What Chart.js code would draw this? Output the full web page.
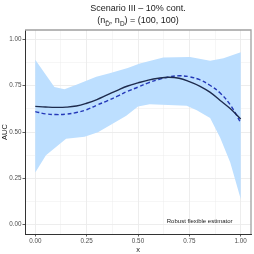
<!DOCTYPE html>
<html>
<head>
<meta charset="utf-8">
<script src="https://cdn.jsdelivr.net/npm/chart.js@4"></script>
<style>
  html, body { margin: 0; padding: 0; background: #fff; }
  #wrap { position: relative; width: 254px; height: 254px; }
  .ttl { position: absolute; left: 25px; right: 3px; text-align: center;
         font-family: "Liberation Sans", Arial, sans-serif; font-size: 9px; color: #1a1a1a; }
  .ttl sub { font-size: 6.5px; }
</style>
</head>
<body>
<div id="wrap">
  <div class="ttl" style="top:3px">Scenario III – 10% cont.</div>
  <div class="ttl" style="top:15px">(n<sub>D̄</sub>, n<sub>D</sub>) = (100, 100)</div>
  <canvas id="c" width="254" height="254"></canvas>
</div>
<script>
/* ===== DATA ===== */
const X_LINE   = [0, 0.05, 0.1, 0.15, 0.2, 0.25, 0.3, 0.35, 0.4, 0.45, 0.5, 0.55, 0.6, 0.65, 0.7, 0.75, 0.8, 0.85, 0.9, 0.95, 1.0];
const TRUE_AUC = [0.638, 0.635, 0.633, 0.634, 0.64, 0.655, 0.675, 0.70, 0.725, 0.748, 0.765, 0.78, 0.79, 0.795, 0.79, 0.772, 0.748, 0.715, 0.67, 0.625, 0.57];
const EST_AUC  = [0.61, 0.598, 0.594, 0.596, 0.605, 0.62, 0.645, 0.668, 0.693, 0.72, 0.742, 0.765, 0.783, 0.797, 0.803, 0.798, 0.782, 0.752, 0.71, 0.645, 0.55];

const X_UPPER  = [0, 0.093, 0.142, 0.2, 0.297, 0.362, 0.45, 0.509, 0.623, 0.753, 0.851, 0.916, 1.0];
const UPPER    = [0.89, 0.742, 0.731, 0.755, 0.798, 0.817, 0.845, 0.870, 0.902, 0.905, 0.884, 0.897, 0.93];
const X_LOWER  = [0, 0.052, 0.15, 0.24, 0.305, 0.37, 0.443, 0.5, 0.557, 0.737, 0.786, 0.851, 0.90, 0.949, 1.0];
const LOWER    = [0.282, 0.374, 0.464, 0.474, 0.499, 0.540, 0.588, 0.638, 0.65, 0.642, 0.617, 0.576, 0.469, 0.335, 0.139];

const TICKS_MAJOR = [0, 0.25, 0.5, 0.75, 1];
const TICKS_MINOR = [0.125, 0.375, 0.625, 0.875];
const NOTE = 'Robust flexible estimator';
const NOTE_POS = [0.80, 0.016];

/* ===== HELPERS ===== */
const pts = (xs, ys) => xs.map((x, i) => ({x, y: ys[i]}));
const FONT = '"Liberation Sans", Arial, sans-serif';
const isMajor = v => TICKS_MAJOR.some(t => Math.abs(t - v) < 1e-9);

const bandShape = pts(X_UPPER, UPPER).concat(pts(X_LOWER, LOWER).reverse());

function axis(width, height) {
  return {
    type: 'linear', min: -0.05, max: 1.05,
    afterBuildTicks: s => { s.ticks = TICKS_MAJOR.concat(TICKS_MINOR).sort((a, b) => a - b).map(v => ({value: v})); },
    afterFit: s => { if (width) s.width = width; if (height) s.height = height; },
    ticks: {
      callback: v => isMajor(v) ? v.toFixed(2) : '',
      color: '#4d4d4d', font: {family: FONT, size: 6.3}, padding: 1, maxRotation: 0, autoSkip: false
    },
    grid: {
      color: '#ebebeb',
      lineWidth: c => isMajor(c.tick.value) ? 0.9 : 0.45,
      tickColor: c => isMajor(c.tick.value) ? '#333' : 'rgba(0,0,0,0)',
      tickLength: 2.5, tickWidth: 0.8
    },
    border: {display: true, color: '#333', width: 1}
  };
}

const extras = {
  id: 'extras',
  afterDraw(chart) {
    const {ctx, chartArea: a, scales: {x, y}} = chart;
    ctx.save();
    ctx.strokeStyle = '#a0a0a0'; ctx.lineWidth = 1.3;
    ctx.beginPath();
    ctx.moveTo(a.left, a.top); ctx.lineTo(a.right, a.top); ctx.lineTo(a.right, a.bottom);
    ctx.stroke();
    ctx.fillStyle = '#1a1a1a';
    ctx.font = '6px ' + FONT;
    ctx.textAlign = 'center'; ctx.textBaseline = 'middle';
    ctx.fillText(NOTE, x.getPixelForValue(NOTE_POS[0]), y.getPixelForValue(NOTE_POS[1]));
    ctx.restore();
  }
};

/* ===== CHART ===== */
const xAxis = axis(null, 20);
xAxis.title = {display: true, text: 'x', color: '#1a1a1a', font: {family: FONT, size: 7.5}, padding: {top: 1, bottom: 0}};
const yAxis = axis(25, null);
yAxis.title = {display: true, text: 'AUC', color: '#1a1a1a', font: {family: FONT, size: 7.5}, padding: {top: 0, bottom: 0}};

new Chart(document.getElementById('c'), {
  type: 'scatter',
  data: {
    datasets: [
      {data: bandShape, order: 3, showLine: true, fill: 'shape', backgroundColor: '#bddfff', borderWidth: 0, pointRadius: 0, tension: 0},
      {data: pts(X_LINE, TRUE_AUC), order: 1, showLine: true, borderColor: '#1e2b4d', borderWidth: 1.4, pointRadius: 0, tension: 0.4, fill: false},
      {data: pts(X_LINE, EST_AUC), order: 2, showLine: true, borderColor: '#2438b8', borderWidth: 1.4, borderDash: [4, 2.5], pointRadius: 0, tension: 0.4, fill: false}
    ]
  },
  options: {
    responsive: false, animation: false, devicePixelRatio: 1,
    layout: {padding: {top: 30, right: 3, left: 0, bottom: 0}},
    plugins: {legend: {display: false}, tooltip: {enabled: false}},
    scales: {x: xAxis, y: yAxis}
  },
  plugins: [extras]
});
</script>
</body>
</html>
